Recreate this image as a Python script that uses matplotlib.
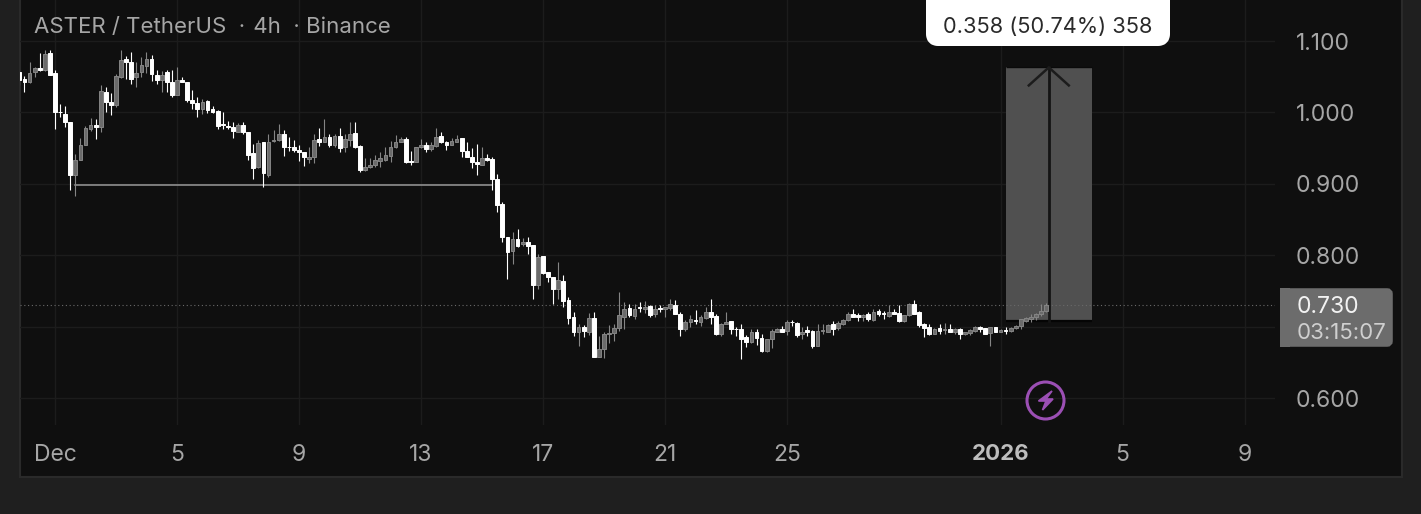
import matplotlib
matplotlib.use("Agg")
import matplotlib.pyplot as plt
import matplotlib.dates as mdates
from matplotlib.patches import Rectangle, FancyBboxPatch, Circle, Polygon
import numpy as np
import pandas as pd

W, H = 1421, 514

START = "2025-11-29 20:00"

opens = [1.057,1.047,1.042,1.056,1.062,1.059,1.083,1.055,1.001,0.998,
 .987,.913,.934,.955,.977,.982,.980,1.029,1.015,1.011,
 1.049,1.075,1.071,1.049,1.056,1.065,1.075,1.053,1.045,1.056,
 1.043,1.025,1.045,1.043,1.017,1.013,1.005,1.016,1.005,1.002,
 .984,.981,.980,.973,.983,.973,.943,.923,.958,.913,
 .960,.961,.970,.952,.951,.948,.944,.935,.937,.963,
 .959,.966,.954,.967,.951,.961,.971,.953,.919,.923,
 .927,.932,.934,.939,.951,.958,.963,.932,.931,.951,
 .954,.949,.953,.967,.958,.955,.959,.964,.946,.938,
 .930,.927,.936,.935,.907,.872,.825,.806,.822,.816,
 .818,.814,.758,.799,.776,.769,.753,.764,.737,.713,
 .693,.699,.692,.712,.657,.669,.690,.691,.698,.714,
 .726,.715,.727,.725,.729,.717,.726,.724,.726,.730,
 .718,.696,.707,.709,.707,.712,.720,.715,.689,.704,
 .708,.697,.696,.685,.678,.693,.684,.666,.682,.693,
 .697,.694,.707,.705,.689,.695,.694,.673,.694,.693,
 .704,.698,.704,.709,.718,.716,.713,.718,.709,.722,
 .719,.715,.720,.719,.708,.716,.732,.720,.703,.700,
 .690,.698,.695,.696,.692,.696,.690,.691,.694,.700,
 .698,.691,.699,.693,.695,.694,.698,.701,.708,.710,
 .713,.717,.722]

highs = [1.057,1.051,1.070,1.064,1.083,1.087,1.087,1.059,1.012,1.009,
 .987,.942,.964,.981,.992,.991,1.039,1.036,1.027,1.054,
 1.087,1.079,1.084,1.070,1.078,1.084,1.080,1.059,1.058,1.060,
 1.060,1.063,1.050,1.043,1.032,1.021,1.019,1.017,1.009,1.003,
 1.001,.988,.986,.985,.986,.973,.956,.961,.958,.970,
 .975,.984,.976,.965,.962,.954,.944,.951,.970,.978,
 .991,.970,.970,.978,.970,.986,.986,.955,.936,.936,
 .941,.944,.952,.960,.968,.966,.966,.946,.952,.963,
 .958,.959,.978,.972,.960,.964,.968,.964,.959,.950,
 .956,.951,.942,.937,.914,.875,.825,.833,.836,.824,
 .826,.814,.802,.799,.776,.769,.790,.772,.741,.720,
 .704,.702,.719,.720,.687,.693,.702,.704,.748,.734,
 .731,.732,.734,.736,.730,.730,.730,.727,.739,.737,
 .721,.709,.716,.723,.716,.727,.739,.717,.705,.720,
 .708,.700,.704,.688,.696,.696,.689,.683,.696,.698,
 .701,.709,.709,.707,.700,.701,.695,.703,.703,.703,
 .708,.708,.710,.720,.725,.719,.718,.720,.724,.725,
 .722,.730,.724,.730,.716,.733,.737,.722,.705,.704,
 .698,.703,.705,.704,.698,.698,.693,.696,.701,.701,
 .698,.699,.700,.696,.700,.699,.702,.711,.713,.718,
 .719,.732,.733]

lows = [1.038,1.029,1.041,1.050,1.058,1.058,1.053,.977,.993,.979,
 .891,.883,.933,.954,.974,.963,.973,1.001,.997,1.008,
 1.048,1.047,1.040,1.036,1.050,1.055,1.044,1.040,1.029,1.029,
 1.022,1.024,1.042,1.014,1.005,.994,.998,.999,.999,.977,
 .977,.977,.964,.973,.970,.933,.907,.922,.896,.910,
 .959,.960,.939,.946,.945,.932,.925,.929,.929,.953,
 .958,.951,.951,.945,.945,.953,.950,.916,.918,.922,
 .924,.923,.932,.930,.950,.958,.929,.926,.930,.950,
 .945,.946,.952,.957,.948,.954,.959,.938,.937,.922,
 .913,.926,.932,.891,.861,.819,.767,.788,.812,.813,
 .802,.739,.753,.774,.762,.731,.738,.728,.704,.687,
 .673,.686,.688,.657,.657,.656,.677,.680,.694,.697,
 .714,.711,.721,.719,.714,.714,.721,.714,.723,.717,
 .687,.694,.700,.704,.701,.711,.704,.688,.687,.703,
 .690,.687,.655,.672,.677,.674,.665,.665,.670,.692,
 .692,.688,.701,.686,.683,.687,.670,.673,.690,.692,
 .688,.695,.702,.708,.713,.708,.708,.708,.708,.715,
 .711,.714,.718,.707,.707,.715,.717,.700,.686,.688,
 .689,.689,.690,.692,.690,.683,.688,.688,.693,.692,
 .690,.673,.692,.692,.690,.693,.696,.696,.707,.707,
 .709,.715,.721]

closes = [1.045,1.043,1.055,1.062,1.059,1.082,1.053,1.000,1.000,.986,
 .913,.934,.955,.978,.982,.979,1.030,1.014,1.011,1.051,
 1.074,1.070,1.047,1.055,1.066,1.075,1.054,1.045,1.053,1.042,
 1.025,1.045,1.042,1.017,1.013,1.005,1.015,1.004,1.001,.981,
 .982,.979,.974,.983,.973,.941,.922,.957,.915,.959,
 .962,.970,.951,.951,.947,.944,.937,.938,.962,.959,
 .965,.954,.967,.950,.963,.970,.951,.919,.923,.927,
 .933,.936,.940,.951,.959,.963,.930,.930,.951,.954,
 .949,.954,.965,.958,.955,.960,.963,.946,.938,.930,
 .928,.936,.934,.907,.871,.825,.805,.822,.813,.818,
 .813,.758,.797,.775,.769,.753,.765,.736,.712,.692,
 .699,.694,.712,.657,.668,.690,.691,.698,.716,.724,
 .716,.725,.726,.727,.716,.724,.725,.727,.731,.718,
 .697,.707,.711,.708,.713,.720,.714,.689,.704,.707,
 .696,.696,.683,.679,.693,.684,.666,.682,.694,.696,
 .693,.707,.706,.688,.693,.692,.673,.694,.695,.702,
 .697,.705,.709,.718,.714,.714,.716,.710,.721,.717,
 .718,.720,.718,.708,.716,.732,.718,.702,.698,.690,
 .697,.694,.696,.693,.696,.689,.692,.695,.700,.697,
 .690,.699,.692,.695,.694,.698,.701,.710,.712,.714,
 .717,.722,.730]

y_ticks = [0.6, 0.7, 0.8, 0.9, 1.0, 1.1]
y_labels = ["0.600", "", "0.800", "0.900", "1.000", "1.100"]
x_tick_dates = ["2025-12-01","2025-12-05","2025-12-09","2025-12-13","2025-12-17",
                "2025-12-21","2025-12-25","2026-01-01","2026-01-05","2026-01-09"]
x_labels = ["Dec","5","9","13","17","21","25","2026","5","9"]

support_price = 0.898
support_start, support_end = "2025-12-01 16:00", "2025-12-15 08:00"
last_price = 0.730
measure_base, measure_top = 0.708, 1.063
measure_start, measure_end = "2026-01-01 04:00", "2026-01-04 00:00"
measure_mid = "2026-01-02 14:00"

FONT = "Inter"
OUTER, PANEL, GRID = "#1f1f1f", "#0f0f0f", "#1c1c1c"
TXT = "#a6a6a6"

plt.rcParams["font.family"] = [FONT, "DejaVu Sans"]
fig = plt.figure(figsize=(W/100, H/100), dpi=100, facecolor=OUTER)

# panel background (pixel overlay)
bg = fig.add_axes([0, 0, 1, 1], zorder=0)
bg.set_xlim(0, W); bg.set_ylim(H, 0); bg.axis("off")
bg.add_patch(Rectangle((19.5, -2), 1382.5, 479, fc=PANEL, ec="#2a2a2a", lw=1.5))

# price chart
L, R, T, B = 20, 1275, 0, 425
ax = fig.add_axes([L/W, 1-B/H, (R-L)/W, (B-T)/H], zorder=1)
ax.patch.set_alpha(0)
for s in ax.spines.values():
    s.set_visible(False)

d0 = mdates.date2num(pd.Timestamp("2025-12-01"))
PX_DAY = 30.5
ax.set_xlim(d0 + (L-55)/PX_DAY, d0 + (R-55)/PX_DAY)
PX_UNIT = 714.0
ax.set_ylim(1.1 - (B-41)/PX_UNIT, 1.1 + (41-T)/PX_UNIT)

ax.set_yticks(y_ticks); ax.set_yticklabels(y_labels)
ax.set_xticks(mdates.date2num(pd.to_datetime(x_tick_dates))); ax.set_xticklabels(x_labels)
ax.yaxis.tick_right()
ax.tick_params(axis="y", length=0, pad=15, labelsize=16.5, labelcolor=TXT)
ax.tick_params(axis="x", length=0, pad=13.5, labelsize=16.5, labelcolor=TXT)
for lbl in ax.get_yticklabels():
    lbl.set_va("center_baseline")
ax.get_xticklabels()[7].set_fontweight("bold")
ax.get_xticklabels()[7].set_fontsize(16)
ax.get_xticklabels()[7].set_color("#bdbdbd")
ax.grid(True, color=GRID, lw=1.0, zorder=0)
ax.set_axisbelow(True)

t = mdates.date2num(pd.date_range(START, periods=len(opens), freq="4h"))
o, h, l, c = map(np.array, (opens, highs, lows, closes))
up = c > o

# measuring tool
ms, me, mm = [mdates.date2num(pd.Timestamp(v)) for v in (measure_start, measure_end, measure_mid)]
ax.add_patch(Rectangle((ms, measure_base), me-ms, measure_top-measure_base,
                       fc="#505050", ec="none", zorder=1.5))
ax.plot([ms, me], [measure_base]*2, color="#050505", lw=1.6, zorder=1.6, solid_capstyle="butt")
ax.plot([ms, me], [measure_top]*2, color="#0a0a0a", lw=1.0, zorder=1.6, solid_capstyle="butt")
ax.plot([mm, mm], [measure_base, measure_top], color="#141414", lw=2.0, zorder=1.7)
dx, dy = 20/PX_DAY, 18/PX_UNIT
ax.plot([mm-dx, mm, mm+dx], [measure_top-dy, measure_top, measure_top-dy],
        color="#1c1c1c", lw=1.8, zorder=1.7)

# candles
BW = 3.7/PX_DAY
ax.vlines(t[~up], l[~up], h[~up], color="#ffffff", lw=0.8, zorder=3)
ax.vlines(t[up], l[up], h[up], color="#858585", lw=0.8, zorder=3)
ax.bar(t[~up], (o-c)[~up], bottom=c[~up], width=BW, color="#ffffff", edgecolor="#ffffff", lw=0.7, zorder=4)
ax.bar(t[up], (c-o)[up], bottom=o[up], width=BW, color="#6b6b6b", edgecolor="#858585", lw=0.7, zorder=4)

# drawn support line
ax.plot(mdates.date2num(pd.to_datetime([support_start, support_end])),
        [support_price]*2, color="#989898", lw=1.1, zorder=2.5)

# last price line
ax.axhline(last_price, color="#6a6a6a", lw=0.8, ls=(0, (1, 2.4)), zorder=2)

# overlay in pixels
ov = fig.add_axes([0, 0, 1, 1], zorder=2)
ov.set_xlim(0, W); ov.set_ylim(H, 0); ov.axis("off")
ov.patch.set_alpha(0)

ov.text(34, 27, "ASTER / TetherUS  · \u200a4h  · Binance", color=TXT, fontsize=16,
        va="center", ha="left")

ov.add_patch(FancyBboxPatch((932, -6), 232, 46, boxstyle="round,pad=0,rounding_size=6",
                            mutation_aspect=1, fc="#ffffff", ec="#ffffff", lw=12/1.39, zorder=5,
                            joinstyle="round"))
ov.text(1048, 27, "0.358 (50.74%) 358", color="#2a2a2a", fontsize=15.7, ha="center",
        va="center", zorder=6)

ov.add_patch(FancyBboxPatch((1283, 291), 107, 53, boxstyle="round,pad=0,rounding_size=3",
                            fc="#6c6c6c", ec="#6c6c6c", lw=4, zorder=5))
ov.add_patch(Rectangle((1280, 288), 10, 59, fc="#6c6c6c", ec="none", zorder=5))
ov.text(1297, 307, "0.730", color="#f2f2f2", fontsize=16.5, va="center", ha="left", zorder=6)
ov.text(1297, 333, "03:15:07", color="#cfcfcf", fontsize=16, va="center", ha="left", zorder=6)

PURPLE = "#9b4fb4"
ov.add_patch(Circle((1045.5, 400.5), 18.5, fc="none", ec=PURPLE, lw=2.2, zorder=5))
ov.add_patch(Polygon([(1052, 391), (1038.5, 401), (1046, 401), (1042.5, 410),
                      (1053, 399), (1046, 399)], closed=True, fc=PURPLE, ec=PURPLE, lw=1.2,
                     joinstyle="miter", zorder=5))

fig.savefig("out.png", dpi=100, facecolor=OUTER)
